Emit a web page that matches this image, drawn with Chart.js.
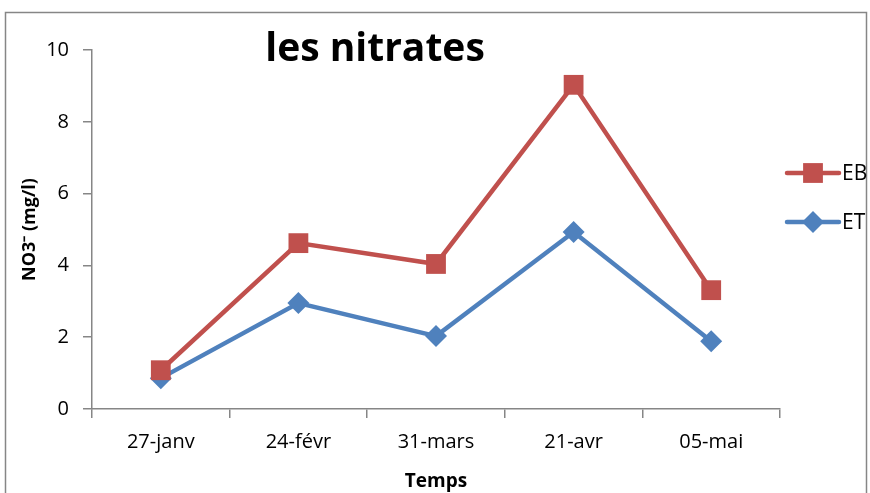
<!DOCTYPE html>
<html>
<head>
<meta charset="utf-8">
<script src="https://cdn.jsdelivr.net/npm/chart.js@4/dist/chart.umd.min.js"></script>
<style>
  html, body { margin: 0; padding: 0; background: #fff; }
  #wrap { width: 870px; height: 493px; }
</style>
</head>
<body>
<div id="wrap"><canvas id="nitrates" width="870" height="493"></canvas></div>
<script>
// dates de prélèvement
const dates = ['27-janv', '24-févr', '31-mars', '21-avr', '05-mai'];
// NO3- en mg/l
const eb = [1.08, 4.62, 4.04, 9.03, 3.31];
const et = [0.86, 2.95, 2.03, 4.93, 1.89];
const yTicks = [0, 2, 4, 6, 8, 10];

const axisGray = '#868686';
const font = "'Open Sans', 'Liberation Sans', sans-serif";

// cadre + titre + légende façon Excel
const excelDecor = {
    id: 'excelDecor',
    beforeDraw(chart) {
        const ctx = chart.ctx;
        ctx.save();
        ctx.fillStyle = '#fff';
        ctx.fillRect(0, 0, chart.width, chart.height);
        ctx.strokeStyle = axisGray;
        ctx.lineWidth = 1.5;
        ctx.strokeRect(5.5, 12.5, 861, 500);
        ctx.restore();
    },
    afterDraw(chart) {
        const ctx = chart.ctx;
        ctx.save();
        ctx.fillStyle = '#000';
        ctx.font = "bold 39px " + font;
        ctx.textAlign = 'center';
        ctx.textBaseline = 'middle';
        ctx.fillText('les nitrates', 375, 50);

        // legend
        chart.data.datasets.forEach((ds, i) => {
            const y = 173 + i * 49;
            ctx.strokeStyle = ds.borderColor;
            ctx.lineWidth = 4.5;
            ctx.lineCap = 'round';
            ctx.beginPath();
            ctx.moveTo(787, y);
            ctx.lineTo(839, y);
            ctx.stroke();
            ctx.fillStyle = ds.borderColor;
            Chart.helpers.drawPoint(ctx, {
                pointStyle: ds.pointStyle,
                radius: ds.pointRadius,
                borderWidth: 0
            }, 813, y);
            ctx.fillStyle = '#000';
            ctx.font = "21px " + font;
            ctx.textAlign = 'left';
            ctx.fillText(ds.label, 842, y + 1);
        });
        ctx.restore();
    }
};

new Chart(document.getElementById('nitrates'), {
    type: 'line',
    data: {
        labels: dates,
        datasets: [{
            label: 'EB',
            data: eb,
            borderColor: '#C0504D',
            backgroundColor: '#C0504D',
            borderWidth: 4.5,
            pointStyle: 'rect',
            pointRadius: 14,
            pointBorderWidth: 0,
            tension: 0
        }, {
            label: 'ET',
            data: et,
            borderColor: '#4F81BD',
            backgroundColor: '#4F81BD',
            borderWidth: 4.5,
            pointStyle: 'rectRot',
            pointRadius: 11,
            pointBorderWidth: 0,
            tension: 0
        }]
    },
    options: {
        responsive: false,
        animation: false,
        layout: { padding: { top: 50, right: 90, left: 0, bottom: 0 } },
        plugins: {
            legend: { display: false },
            title: { display: false },
            tooltip: { enabled: false }
        },
        scales: {
            x: {
                offset: true,
                grid: {
                    offset: true,
                    drawOnChartArea: false,
                    drawTicks: true,
                    tickLength: 9,
                    color: axisGray,
                    lineWidth: 1.5
                },
                border: { color: axisGray, width: 1.5 },
                ticks: { color: '#000', font: { family: font, size: 20 }, padding: 12, maxRotation: 0 },
                title: {
                    display: true,
                    text: 'Temps',
                    color: '#000',
                    font: { family: font, size: 19, weight: 'bold' },
                    padding: { top: 2, bottom: 0 }
                },
                afterFit(scale) { scale.height = 84; }
            },
            y: {
                min: 0,
                max: 10,
                afterBuildTicks(scale) { scale.ticks = yTicks.map(v => ({ value: v })); },
                grid: {
                    drawOnChartArea: false,
                    drawTicks: true,
                    tickLength: 9,
                    color: axisGray,
                    lineWidth: 1.5
                },
                border: { color: axisGray, width: 1.5 },
                ticks: { color: '#000', font: { family: font, size: 20 }, padding: 14 },
                title: {
                    display: true,
                    text: 'NO3⁻ (mg/l)',
                    color: '#000',
                    font: { family: font, size: 18, weight: 'bold' },
                    padding: { top: 19, bottom: 0 }
                },
                afterFit(scale) { scale.width = 92; }
            }
        }
    },
    plugins: [excelDecor]
});
</script>
</body>
</html>
